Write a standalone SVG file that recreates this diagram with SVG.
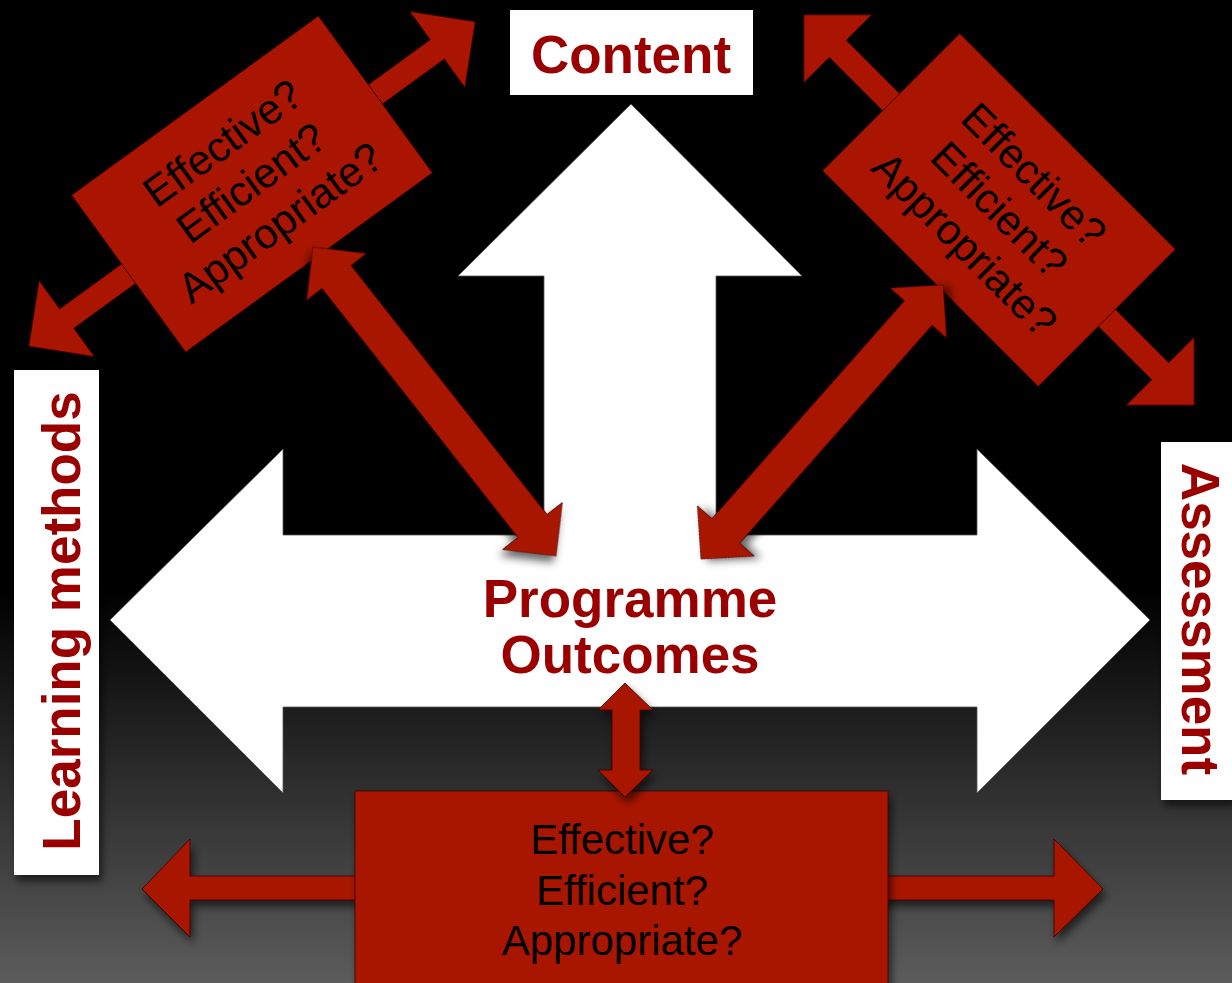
<svg xmlns="http://www.w3.org/2000/svg" width="1232" height="983" viewBox="0 0 1232 983">
<defs>
<linearGradient id="bg" x1="0" y1="0" x2="0" y2="983" gradientUnits="userSpaceOnUse">
<stop offset="0" stop-color="#000"/>
<stop offset="0.6" stop-color="#000"/>
<stop offset="1" stop-color="#5c5c5c"/>
</linearGradient>
<filter id="sh" x="-20%" y="-20%" width="140%" height="140%">
<feDropShadow dx="3" dy="6" stdDeviation="4" flood-color="#000" flood-opacity="0.6"/>
</filter>
<style>
.red{fill:#a91500;stroke:#3a0000;stroke-width:0.8}
.lbl{fill:#fff}
.ttl{font-family:"Liberation Sans",Arial,sans-serif;font-weight:bold;font-size:53px;fill:#9a0000;text-anchor:middle}
.q{font-family:"Liberation Sans",Arial,sans-serif;font-size:42px;fill:#000;text-anchor:middle}
</style>
</defs>
<rect x="0" y="0" width="1232" height="983" fill="url(#bg)"/>

<g id="cross">
<polygon fill="#fff" stroke="#555" stroke-width="0.8" points="631,104 802,276 716,276 716,535 977,535 977,449 1150,620 977,793 977,707 283,707 283,793 110,620 283,449 283,535 544,535 544,276 458,276"/>
<text class="ttl" x="630" y="617" font-size="52">Programme</text>
<text class="ttl" x="630" y="673" font-size="52">Outcomes</text>
</g>

<g id="content">
<rect class="lbl" x="510" y="10" width="243" height="85" filter="url(#sh)"/>
<text class="ttl" x="631" y="73">Content</text>
</g>

<g id="learning-methods">
<rect class="lbl" x="14" y="370" width="85" height="505" filter="url(#sh)"/>
<text class="ttl" transform="translate(80,621) rotate(-90)" x="0" y="0">Learning methods</text>
</g>

<g id="assessment">
<rect class="lbl" x="1161" y="442" width="75" height="358" filter="url(#sh)"/>
<text class="ttl" transform="translate(1182,619) rotate(90)" x="0" y="0">Assessment</text>
</g>

<g id="box-top-left" transform="rotate(-36 252 184)">
<polygon class="red" transform="translate(252 184)" points="-276,0 -229,-47 -229,-12 229,-12 229,-47 276,0 229,47 229,12 -229,12 -229,47"/>
<rect class="red" x="99.5" y="87" width="305" height="194"/>
<g transform="translate(252 184)">
<text class="q" x="0" y="-36">Effective?</text>
<text class="q" x="0" y="13">Efficient?</text>
<text class="q" x="0" y="62">Appropriate?</text>
</g>
</g>

<g id="box-top-right" transform="rotate(45 999 210)">
<polygon class="red" transform="translate(999 210)" points="-276,0 -228,-48 -228,-12 228,-12 228,-48 276,0 228,48 228,12 -228,12 -228,48"/>
<rect class="red" x="846.5" y="113" width="305" height="194"/>
<g transform="translate(999 210)">
<text class="q" x="0" y="-35">Effective?</text>
<text class="q" x="0" y="14">Efficient?</text>
<text class="q" x="0" y="63">Appropriate?</text>
</g>
</g>

<g id="box-bottom">
<polygon class="red" filter="url(#sh)" points="142,889 190,839 190,876 1054,876 1054,839 1103,889 1054,937 1054,900 190,900 190,937"/>
<rect class="red" x="355" y="791" width="533" height="200" filter="url(#sh)"/>
<text class="q" x="622" y="854">Effective?</text>
<text class="q" x="622" y="905">Efficient?</text>
<text class="q" x="622" y="955">Appropriate?</text>
</g>

<g id="connectors">
<polygon class="red" filter="url(#sh)" transform="translate(434.5 401.5) rotate(51.8)" points="-196.5,0 -158.5,-38 -158.5,-18.5 158.5,-18.5 158.5,-38 196.5,0 158.5,38 158.5,18.5 -158.5,18.5 -158.5,38"/>
<polygon class="red" filter="url(#sh)" transform="translate(822 422) rotate(-48.55)" points="-182.8,0 -145.3,-38 -145.3,-18.5 145.3,-18.5 145.3,-38 182.8,0 145.3,38 145.3,18.5 -145.3,18.5 -145.3,38"/>
<polygon class="red" filter="url(#sh)" points="625,683 653,710 640,710 640,770 653,770 625,797 598,770 612,770 612,710 598,710"/>
</g>
</svg>
